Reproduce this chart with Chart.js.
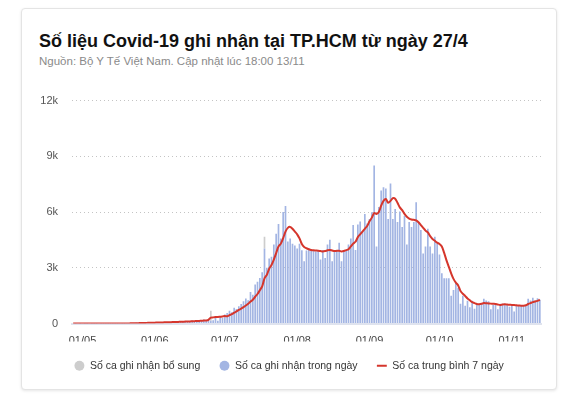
<!DOCTYPE html>
<html lang="vi">
<head>
<meta charset="utf-8">
<title>Số liệu Covid-19 TP.HCM</title>
<script src="https://cdn.jsdelivr.net/npm/chart.js@4/dist/chart.umd.min.js"></script>
<style>
  html, body { margin: 0; padding: 0; background: #fff; }
  body { width: 567px; height: 398px; position: relative; overflow: hidden;
         font-family: Arial, "Liberation Sans", sans-serif; }
  .card { position: absolute; left: 21px; top: 8px; width: 534px; height: 380px;
          border: 1px solid #e4e4e4; border-radius: 4px;
          box-shadow: 0 1px 3px rgba(0,0,0,0.10); background: #fff; }
  h1 { position: absolute; left: 39px; top: 30px; margin: 0; font-size: 18px; line-height: 22px;
       font-weight: bold; color: #111; white-space: nowrap; }
  .sub { position: absolute; left: 39px; top: 54px; margin: 0; font-size: 11.5px; line-height: 14px;
         color: #8a8a8a; white-space: nowrap; }
  .wrap { position: absolute; left: 21px; top: 80px; width: 535px; height: 301px; }
</style>
</head>
<body>
<div class="card"></div>
<h1>Số liệu Covid-19 ghi nhận tại TP.HCM từ ngày 27/4</h1>
<p class="sub">Nguồn: Bộ Y Tế Việt Nam. Cập nhật lúc 18:00 13/11</p>
<div class="wrap"><canvas id="c"></canvas></div>

<script>
// tháng / ngày đầu / ngày cuối trong khoảng dữ liệu (27/4 → 13/11)
const MONTH_SPANS = [[4, 27, 30], [5, 1, 31], [6, 1, 30], [7, 1, 31], [8, 1, 31], [9, 1, 30], [10, 1, 31], [11, 1, 13]];
const TICK_LABELS = ["01/05", "01/06", "01/07", "01/08", "01/09", "01/10", "01/11"];
const Y_TICKS = [0, 3000, 6000, 9000, 12000];

// Số ca ghi nhận trong ngày
const dailyCases = [
  0, 1, 0, 2,
  // 05
  0, 2, 1, 0, 3, 1, 2, 0, 4, 5, 2, 3, 1, 6, 4, 2, 8, 3, 5, 10, 15, 22, 28, 35, 40, 26, 45, 38, 52, 33, 60,
  // 06
  48, 62, 55, 75, 70, 58, 85, 95, 72, 110, 90, 120, 100, 135, 115, 140, 160, 125, 175, 150, 190, 210, 170, 230, 150, 180, 320, 150, 380, 300,
  // 07
  480, 560, 690, 600, 850, 780, 930, 1050, 1200, 1350, 1250, 1700, 1550, 2100, 2250, 2450, 2760, 4040, 3000, 3500, 3600, 4250, 4830, 5360, 4570, 6000, 6320, 4410, 4570, 4300, 4200,
  // 08
  4040, 4300, 3950, 3350, 3930, 4040, 3960, 3930, 3880, 3960, 3450, 3960, 3520, 4250, 4510, 3350, 3880, 3960, 4350, 3350, 3880, 3960, 4250, 4570, 5300, 3960, 5330, 5490, 4940, 5890, 5380,
  // 09
  5630, 5990, 8500, 4140, 6270, 7160, 7330, 7270, 5630, 7540, 5630, 6160, 5470, 6030, 5200, 5800, 4250, 5470, 5200, 5470, 6530, 5470, 5040, 3770, 4140, 5100, 4140, 3770, 4670, 4320,
  // 10
  3720, 2710, 2440, 2440, 2440, 1490, 1800, 2180, 1930, 1060, 1500, 960, 1220, 870, 1220, 800, 1040, 990, 1060, 1330, 1240, 1200, 770, 990, 990, 770, 1060, 1060, 1060, 990, 900,
  // 11
  940, 640, 990, 990, 940, 990, 940, 1330, 1240, 1380, 1240, 1360, 1280,
];

// Số ca ghi nhận bổ sung (chỉ vài ngày)
const addedCases = [
  0, 0, 0, 0,
  0, 0, 0, 0, 0, 0, 0, 0, 0, 0, 0, 0, 0, 0, 0, 0, 0, 0, 0, 0, 0, 0, 0, 0, 0, 0, 0, 0, 0, 0, 0,
  0, 0, 0, 0, 0, 0, 0, 0, 0, 0, 0, 0, 0, 0, 0, 0, 0, 0, 0, 0, 0, 0, 0, 0, 540, 0, 0, 0, 0, 0,
  0, 0, 0, 0, 0, 0, 0, 0, 0, 0, 0, 0, 0, 0, 0, 0, 0, 630, 0, 0, 0, 0, 0, 0, 0, 0, 0, 0, 0, 0, 0,
  0, 0, 0, 0, 0, 0, 0, 0, 0, 0, 0, 0, 0, 0, 0, 0, 0, 0, 0, 0, 0, 0, 0, 0, 0, 0, 0, 0, 0, 0, 0,
  0, 0, 0, 0, 0, 0, 0, 0, 0, 0, 0, 0, 0, 0, 0, 0, 0, 0, 0, 0, 0, 0, 0, 0, 0, 0, 0, 0, 0, 0,
  0, 0, 0, 0, 0, 0, 0, 0, 0, 0, 0, 0, 0, 0, 0, 0, 0, 0, 0, 0, 0, 0, 0, 0, 0, 0, 0, 0, 0, 0, 0,
  0, 0, 0, 0, 0, 0, 0, 0, 0, 0, 0, 0, 0,
];

// Số ca trung bình 7 ngày
const avg7 = [
  0, 0, 0, 1,
  // 05
  1, 1, 1, 1, 1, 1, 2, 2, 2, 2, 2, 2, 3, 3, 3, 3, 3, 3, 4, 5, 6, 8, 11, 14, 18, 24, 29, 31, 36, 39, 43,
  // 06
  46, 52, 54, 58, 61, 65, 68, 73, 78, 83, 87, 92, 98, 101, 107, 111, 119, 126, 131, 140, 147, 155, 165, 200, 320, 330, 345, 350, 365, 380,
  // 07
  400, 390, 450, 500, 580, 650, 730, 800, 880, 970, 1060, 1180, 1280, 1440, 1590, 1790, 2000, 2430, 2620, 2950, 3150, 3440, 3790, 4150, 4300, 4600, 4950, 5150, 5200, 5100, 4950,
  // 08
  4800, 4580, 4280, 4120, 4050, 4000, 3960, 3940, 3930, 3920, 3900, 3880, 3900, 3940, 3960, 3930, 3900, 3910, 3920, 3880, 3900, 3950, 4000, 4150, 4300, 4400, 4650, 4800, 4950, 5100, 5250,
  // 09
  5500, 5700, 5950, 5900, 6000, 6350, 6600, 6700, 6500, 6600, 6750, 6720, 6500, 6250, 6100, 5900, 5750, 5650, 5600, 5580, 5550, 5450, 5300, 5150, 5000, 4900, 4700, 4550, 4450, 4350,
  // 10
  4280, 4150, 3800, 3400, 3050, 2700, 2400, 2200, 2050, 1750, 1600, 1480, 1350, 1250, 1150, 1100, 1050, 1040, 1060, 1100, 1090, 1080, 1070, 1060, 1050, 1020, 1000, 1020, 1030, 1020, 1010,
  // 11
  1000, 990, 980, 970, 960, 960, 980, 1050, 1100, 1150, 1180, 1220, 1280,
];

const pad2 = (n) => String(n).padStart(2, "0");
const days = [];
MONTH_SPANS.forEach(([m, from, to]) => {
  for (let d = from; d <= to; d++) days.push(pad2(d) + "/" + pad2(m));
});

const FONT = "Arial, 'Liberation Sans', sans-serif";
Chart.defaults.font.family = FONT;
Chart.defaults.color = "#444";

// legend: bổ sung, trong ngày, trung bình
const LEGEND_RANK = { 1: 0, 0: 1, 2: 2 };

new Chart(document.getElementById("c"), {
  data: {
    labels: days,
    datasets: [
      {
        type: "bar",
        label: "Số ca ghi nhận trong ngày",
        data: dailyCases,
        backgroundColor: "#a3b5e3",
        borderWidth: 0,
        barPercentage: 0.72,
        categoryPercentage: 1,
        stack: "s",
        order: 2,
      },
      {
        type: "bar",
        label: "Số ca ghi nhận bổ sung",
        data: addedCases,
        backgroundColor: "#cdcdcd",
        borderWidth: 0,
        barPercentage: 0.72,
        categoryPercentage: 1,
        stack: "s",
        order: 2,
      },
      {
        type: "line",
        label: "Số ca trung bình 7 ngày",
        data: avg7,
        borderColor: "#d5362c",
        backgroundColor: "#d5362c",
        borderWidth: 2,
        pointRadius: 0,
        pointStyle: "line",
        pointBorderWidth: 2,
        tension: 0.3,
        order: 1,
      },
    ],
  },
  options: {
    responsive: true,
    maintainAspectRatio: false,
    animation: false,
    layout: { padding: { top: 16, right: 15, bottom: 0, left: 16 } },
    plugins: {
      tooltip: { enabled: false },
      legend: {
        position: "bottom",
        labels: {
          usePointStyle: true,
          boxWidth: 12,
          boxHeight: 7,
          padding: 19,
          color: "#333",
          font: { size: 10.5 },
          sort: (a, b) => LEGEND_RANK[a.datasetIndex] - LEGEND_RANK[b.datasetIndex],
        },
      },
    },
    scales: {
      x: {
        stacked: true,
        grid: { display: false, drawTicks: false },
        border: { display: true, color: "#dfe3ee", width: 2 },
        afterFit: (s) => { s.height = 18; },
        ticks: {
          autoSkip: false,
          maxRotation: 0,
          padding: 11,
          color: "#444",
          font: { size: 11 },
          callback: function (v) {
            const l = this.getLabelForValue(v);
            return TICK_LABELS.includes(l) ? l : "";
          },
        },
      },
      y: {
        stacked: true,
        min: 0,
        max: 12000,
        afterFit: (s) => { s.width = 35; },
        afterBuildTicks: (s) => { s.ticks = Y_TICKS.map((v) => ({ value: v })); },
        border: { display: false, dash: [1, 3] },
        grid: { color: "#c4c4c4", drawTicks: false },
        ticks: {
          padding: 14,
          color: "#555",
          font: { size: 11 },
          callback: (v) => (v === 0 ? "0" : v / 1000 + "k"),
        },
      },
    },
  },
});
</script>
</body>
</html>
